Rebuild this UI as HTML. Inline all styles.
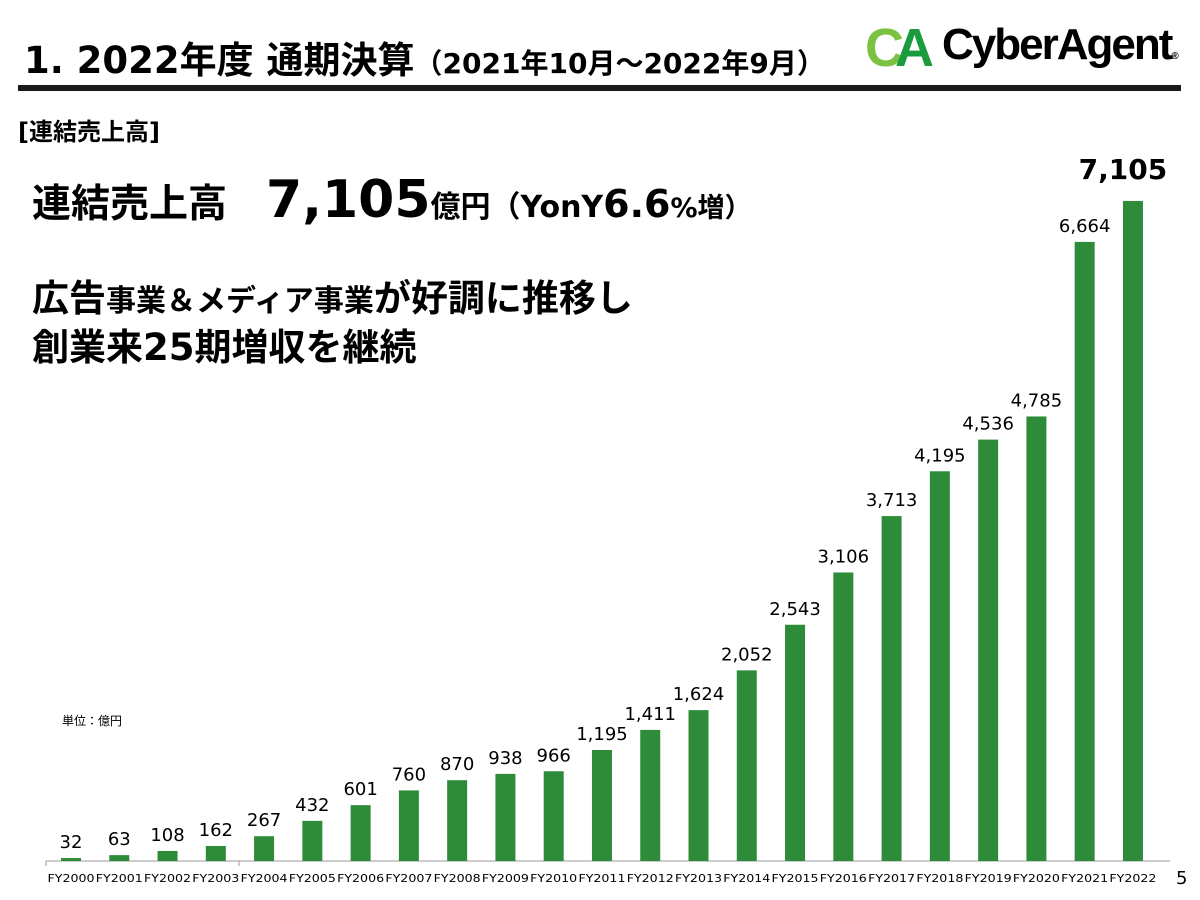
<!DOCTYPE html>
<html><head><meta charset="utf-8"><style>
body{margin:0;width:1200px;height:900px;background:#fff;position:relative;overflow:hidden;font-family:"DejaVu Sans","Noto Sans CJK JP",sans-serif;color:#000}
.a{position:absolute;white-space:nowrap}
</style></head><body>
<div class="a" style="left:24px;top:30px;font-size:37px;font-weight:bold;">1. 2022年度 通期決算<span style="font-size:28px">（2021年10月～2022年9月）</span></div>
<div class="a" style="left:865px;top:20px;width:75px;height:52px;">
<svg width="75" height="52"><text x="0" y="46" font-size="54" font-weight="bold" fill="#7cc242" font-family="Liberation Sans">C</text><text x="30" y="46" font-size="54" font-weight="bold" fill="#1a9c3e" font-family="Liberation Sans">A</text></svg></div>
<div class="a" style="left:942px;top:20px;font-size:44px;font-weight:bold;letter-spacing:-2px;font-family:'Liberation Sans',sans-serif">CyberAgent<span style="font-size:10px">®</span></div>
<div class="a" style="left:18px;top:85px;width:1163px;height:6px;background:#1a1a1a"></div>
<div class="a" style="left:18px;top:112px;font-size:24px;font-weight:bold;">[連結売上高]</div>
<div class="a" style="left:32px;top:170px;font-size:39px;font-weight:bold;">連結売上高　<span style="font-size:52px">7,105</span><span style="font-size:30px">億円（YonY</span><span style="font-size:38px">6.6</span><span style="font-size:27px">%増）</span></div>
<div class="a" style="left:32px;top:276px;font-size:37px;font-weight:bold;line-height:46px">広告<span style="font-size:30px">事業＆メディア事業</span>が好調に推移し<br>創業来25期増収を継続</div>
<div class="a" style="left:62px;top:712px;font-size:12px;">単位：億円</div>
<div class="a" style="left:1176px;top:868px;font-size:18px;">5</div>
<svg class="a" style="left:0;top:0" width="1200" height="900" id="s"></svg>
<script>
var v=[32,63,108,162,267,432,601,760,870,938,966,1195,1411,1624,2052,2543,3106,3713,4195,4536,4785,6664,7105];
var s=document.getElementById('s'),h='';
h+='<line x1="46" y1="861" x2="1170" y2="861" stroke="#999" stroke-width="1"/>';
h+='<line x1="46" y1="861" x2="46" y2="866" stroke="#999"/><line x1="239" y1="861" x2="239" y2="866" stroke="#999"/>';
for(var i=0;i<23;i++){var cx=71+i*48.27,t=861-v[i]*0.0929;
h+='<rect x="'+(cx-10)+'" y="'+t+'" width="20" height="'+(861-t)+'" fill="#2e8b3a"/>';
var lab=v[i].toLocaleString('en-US');
if(i==22)h+='<text x="'+(cx-10)+'" y="'+(t-22)+'" font-size="28" font-weight="bold" text-anchor="middle" font-family="DejaVu Sans">'+lab+'</text>';
else h+='<text x="'+cx+'" y="'+(t-10)+'" font-size="18" text-anchor="middle" font-family="DejaVu Sans">'+lab+'</text>';
h+='<text x="'+cx+'" y="882" font-size="11" text-anchor="middle" font-family="DejaVu Sans" textLength="47" lengthAdjust="spacingAndGlyphs">FY'+(2000+i)+'</text>';}
s.innerHTML=h;
</script>
</body></html>
